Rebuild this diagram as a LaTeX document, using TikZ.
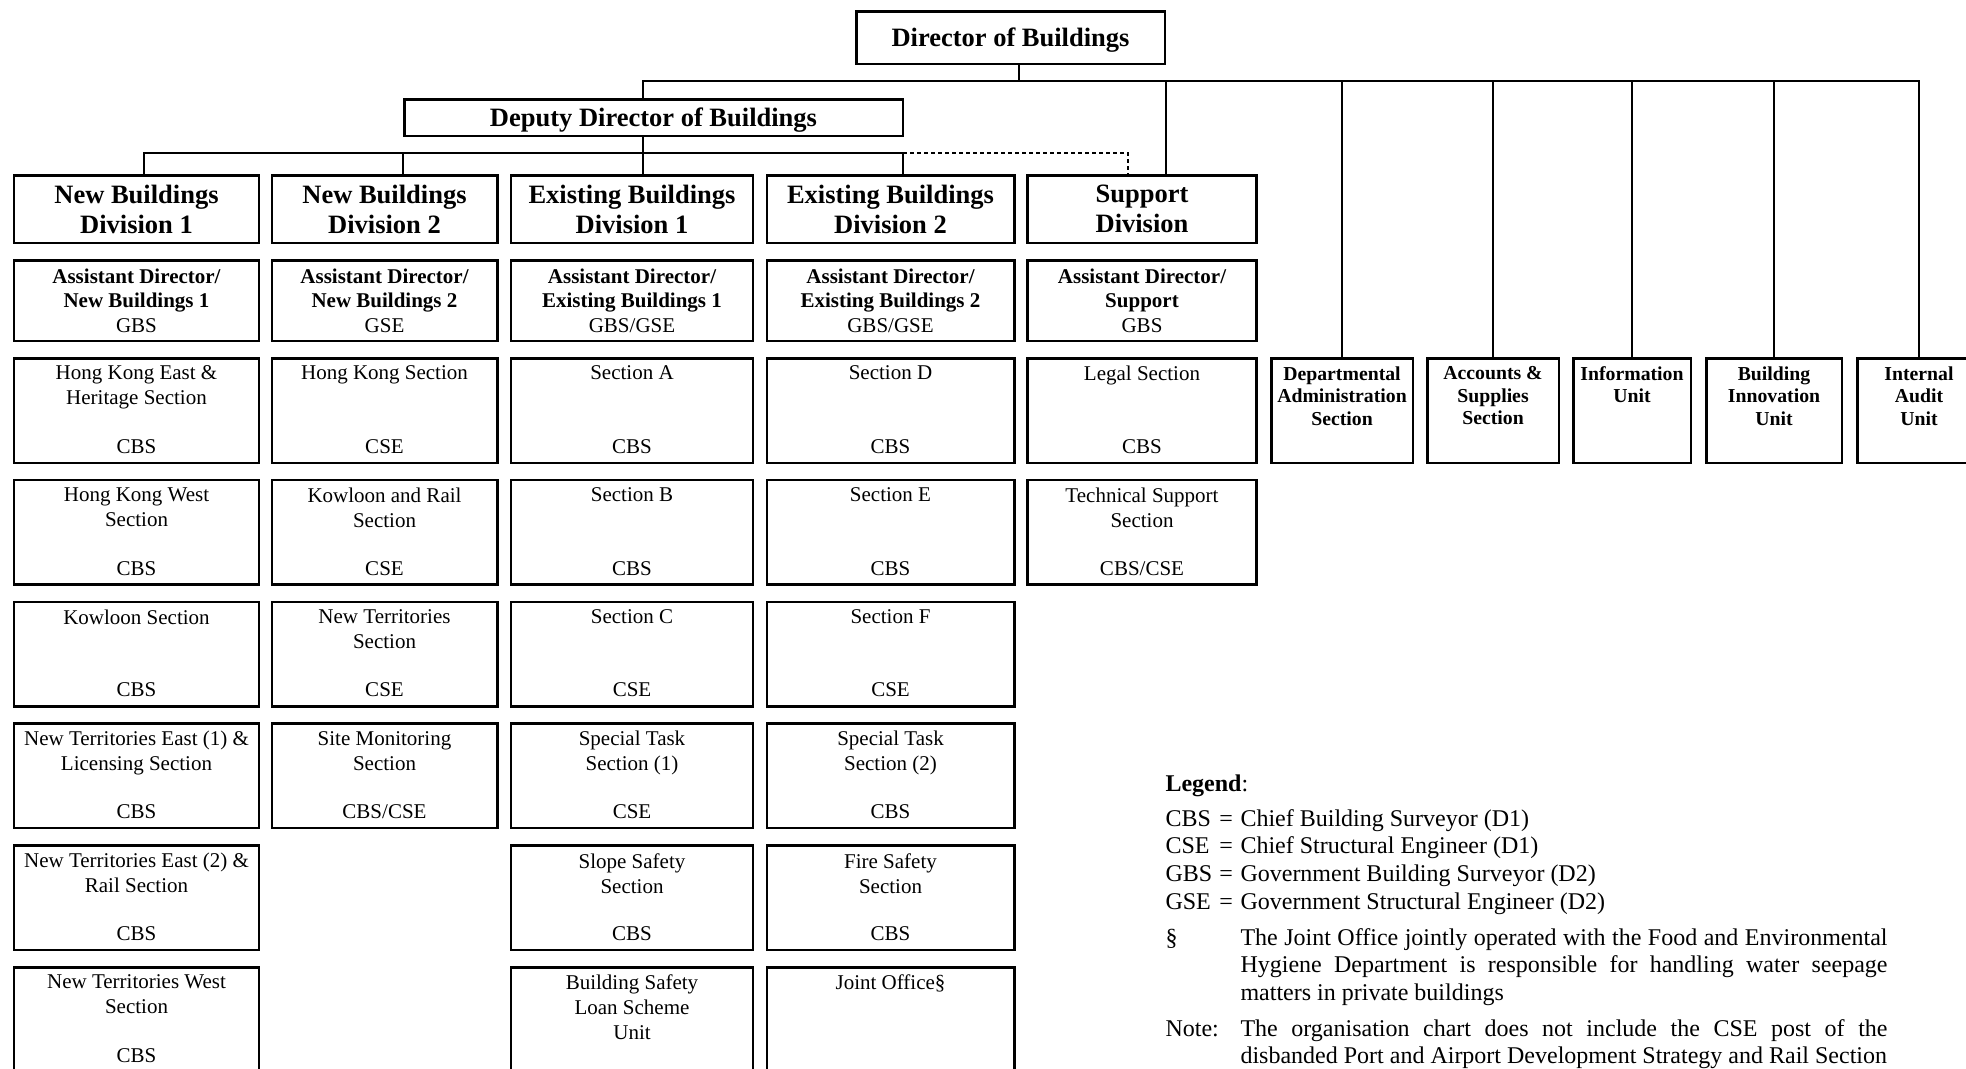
\documentclass[tikz,border=0pt]{standalone}
\usepackage{fontspec}
\setmainfont{Liberation Serif}

\begin{document}
\begin{tikzpicture}[
    x=0.4pt,y=-0.4pt,
    orgbox/.style={draw,line width=1pt,inner sep=0pt},
    headbox/.style={orgbox,align=center,font=\bfseries\fontsize{10.6}{12}\selectfont},
    divbox/.style={headbox,minimum height=27pt},
    adbox/.style={orgbox,minimum height=32.2pt,align=center,font=\bfseries\fontsize{8.4}{9.8}\selectfont},
    secbox/.style={orgbox,minimum height=41.8pt},
    sectop/.style={anchor=north,align=center,inner sep=3.4pt,font=\fontsize{8.4}{10}\selectfont},
    secbot/.style={anchor=south,inner sep=4.1pt,text depth=0pt,font=\fontsize{8.4}{10}\selectfont},
    unittop/.style={anchor=north,align=center,inner sep=3.6pt,font=\bfseries\fontsize{7.9}{9}\selectfont},
    col1/.style={minimum width=97.8pt},
    col2/.style={minimum width=90.2pt},
    col3/.style={minimum width=96.8pt},
    col4/.style={minimum width=99pt},
    col5/.style={minimum width=91.6pt},
    link/.style={line width=0.6pt},
    dotlink/.style={link,dash pattern=on 1.6pt off 1.2pt},
    legtext/.style={inner sep=0pt,font=\fontsize{9.6}{11}\selectfont}
  ]
    \useasboundingbox (0,0) rectangle (1966,1068);
    \clip (0,0) rectangle (1966,1068);

    % top of the chart
    \node[headbox,text depth=0pt,minimum width=123.4pt,minimum height=21pt] (dir) at (1010.5,37.5) {Director of Buildings};
    \node[headbox,text depth=0pt,minimum width=199.4pt,minimum height=14.6pt] (dep) at (653.5,117.5) {Deputy Director of Buildings};

    % divisions
    \node[divbox,col1] (nbone) at (136.5,209) {New Buildings\\Division 1};
    \node[divbox,col2] (nbtwo) at (384.5,209) {New Buildings\\Division 2};
    \node[divbox,col3] (ebone) at (632,209) {Existing Buildings\\Division 1};
    \node[divbox,col4] (ebtwo) at (890.5,209) {Existing Buildings\\Division 2};
    \node[divbox,col5] (supdiv) at (1142,209) {Support\\Division};

    \node[adbox,col1] (adnbone) at (136.5,300.5) {Assistant Director/\\New Buildings 1\\\mdseries GBS};
    \node[adbox,col2] (adnbtwo) at (384.5,300.5) {Assistant Director/\\New Buildings 2\\\mdseries GSE};
    \node[adbox,col3] (adebone) at (632,300.5) {Assistant Director/\\Existing Buildings 1\\\mdseries GBS/GSE};
    \node[adbox,col4] (adebtwo) at (890.5,300.5) {Assistant Director/\\Existing Buildings 2\\\mdseries GBS/GSE};
    \node[adbox,col5] (adsup) at (1142,300.5) {Assistant Director/\\Support\\\mdseries GBS};

    % sections
    \node[secbox,col1,label={[sectop]above:Hong Kong East \&\\Heritage Section},label={[secbot]below:CBS}] (hke) at (136.5,410.5) {};
    \node[secbox,col1,label={[sectop]above:Hong Kong West\\Section},label={[secbot]below:CBS}] (hkw) at (136.5,532.3) {};
    \node[secbox,col1,label={[sectop]above:Kowloon Section},label={[secbot]below:CBS}] (kln) at (136.5,654.1) {};
    \node[secbox,col1,label={[sectop]above:New Territories East (1) \&\\Licensing Section},label={[secbot]below:CBS}] (ntea) at (136.5,775.9) {};
    \node[secbox,col1,label={[sectop]above:New Territories East (2) \&\\Rail Section},label={[secbot]below:CBS}] (nteb) at (136.5,897.7) {};
    \node[secbox,col1,label={[sectop]above:New Territories West\\Section},label={[secbot]below:CBS}] (ntw) at (136.5,1019.5) {};

    \node[secbox,col2,label={[sectop]above:Hong Kong Section},label={[secbot]below:CSE}] (hks) at (384.5,410.5) {};
    \node[secbox,col2,label={[sectop]above:Kowloon and Rail\\Section},label={[secbot]below:CSE}] (klr) at (384.5,532.3) {};
    \node[secbox,col2,label={[sectop]above:New Territories\\Section},label={[secbot]below:CSE}] (nts) at (384.5,654.1) {};
    \node[secbox,col2,label={[sectop]above:Site Monitoring\\Section},label={[secbot]below:CBS/CSE}] (sitemon) at (384.5,775.9) {};

    \node[secbox,col3,label={[sectop]above:Section A},label={[secbot]below:CBS}] (seca) at (632,410.5) {};
    \node[secbox,col3,label={[sectop]above:Section B},label={[secbot]below:CBS}] (secb) at (632,532.3) {};
    \node[secbox,col3,label={[sectop]above:Section C},label={[secbot]below:CSE}] (secc) at (632,654.1) {};
    \node[secbox,col3,label={[sectop]above:Special Task\\Section (1)},label={[secbot]below:CSE}] (stone) at (632,775.9) {};
    \node[secbox,col3,label={[sectop]above:Slope Safety\\Section},label={[secbot]below:CBS}] (slope) at (632,897.7) {};
    \node[secbox,col3,label={[sectop]above:Building Safety\\Loan Scheme\\Unit}] (bslu) at (632,1019.5) {};

    \node[secbox,col4,label={[sectop]above:Section D},label={[secbot]below:CBS}] (secd) at (890.5,410.5) {};
    \node[secbox,col4,label={[sectop]above:Section E},label={[secbot]below:CBS}] (sece) at (890.5,532.3) {};
    \node[secbox,col4,label={[sectop]above:Section F},label={[secbot]below:CSE}] (secf) at (890.5,654.1) {};
    \node[secbox,col4,label={[sectop]above:Special Task\\Section (2)},label={[secbot]below:CBS}] (sttwo) at (890.5,775.9) {};
    \node[secbox,col4,label={[sectop]above:Fire Safety\\Section},label={[secbot]below:CBS}] (fire) at (890.5,897.7) {};
    \node[secbox,col4,label={[sectop]above:Joint Office§}] (joint) at (890.5,1019.5) {};

    \node[secbox,col5,label={[sectop]above:Legal Section},label={[secbot]below:CBS}] (legal) at (1142,410.5) {};
    \node[secbox,col5,label={[sectop]above:Technical Support\\Section},label={[secbot]below:CBS/CSE}] (techsup) at (1142,532.3) {};

    % units under the director
    \node[secbox,minimum width=56.6pt,label={[unittop]above:Departmental\\Administration\\Section}] (admin) at (1342,410.5) {};
    \node[secbox,minimum width=52.6pt,label={[unittop]above:Accounts \&\\Supplies\\Section}] (accounts) at (1493,410.5) {};
    \node[secbox,minimum width=47pt,label={[unittop]above:Information\\Unit}] (info) at (1632,410.5) {};
    \node[secbox,minimum width=54.2pt,label={[unittop]above:Building\\Innovation\\Unit}] (innov) at (1774,410.5) {};
    \node[secbox,minimum width=49.4pt,label={[unittop]above:Internal\\Audit\\Unit}] (audit) at (1919,410.5) {};

    % lines
    \coordinate (mainbus) at (0,81);
    \coordinate (divbus) at (0,153);
    \draw[link] ([xshift=3.4pt]dir.south) -- ([xshift=3.4pt]dir.south |- mainbus);
    \draw[link] ([xshift=-4.2pt]dep.north) |- (audit.north |- mainbus) -- (audit.north);
    \foreach \u in {admin,accounts,info,innov}
      \draw[link] (\u.north) -- (\u.north |- mainbus);
    \draw[link] ([xshift=9.6pt]supdiv.north) -- ([xshift=9.6pt]supdiv.north |- mainbus);
    \draw[link] ([xshift=-4.2pt]dep.south) -- ([xshift=-4.2pt]dep.south |- divbus);
    \draw[link] ([xshift=3pt]nbone.north) |- ([xshift=5pt]ebtwo.north |- divbus) -- ([xshift=5pt]ebtwo.north);
    \draw[link] ([xshift=7.4pt]nbtwo.north) -- ([xshift=7.4pt]nbtwo.north |- divbus);
    \draw[link] ([xshift=4.4pt]ebone.north) -- ([xshift=4.4pt]ebone.north |- divbus);
    \draw[dotlink] ([xshift=5pt]ebtwo.north |- divbus) -| ([xshift=-5.6pt]supdiv.north);

    % legend
    \node[legtext,anchor=base west] (leghead) at (1165,791) {\textbf{Legend}:};
    \foreach \ab/\full/\y in {CBS/Chief Building Surveyor (D1)/826,CSE/Chief Structural Engineer (D1)/853,GBS/Government Building Surveyor (D2)/881,GSE/Government Structural Engineer (D2)/909}{
      \node[legtext,anchor=base west] (abbr\ab) at (1165,\y) {\makebox[21.5pt][l]{\ab}=};
      \node[legtext,anchor=base west] (desc\ab) at (1240,\y) {\full};
    }
    \node[legtext,anchor=base west] (secmark) at (1165,945) {§};
    \node[legtext,anchor=base west,text width=258.8pt,align=justify] (jointnote) at (1240,945)
      {The Joint Office jointly operated with the Food and Environmental\linebreak Hygiene Department is responsible for handling water seepage\linebreak matters in private buildings};
    \node[legtext,anchor=base west] (notehead) at (1165,1036) {Note:};
    \node[legtext,anchor=base west,text width=258.8pt,align=justify] (orgnote) at (1240,1036)
      {\parfillskip=0pt The organisation chart does not include the CSE post of the\linebreak disbanded Port and Airport Development Strategy and Rail Section};
  \end{tikzpicture}
\end{document}
